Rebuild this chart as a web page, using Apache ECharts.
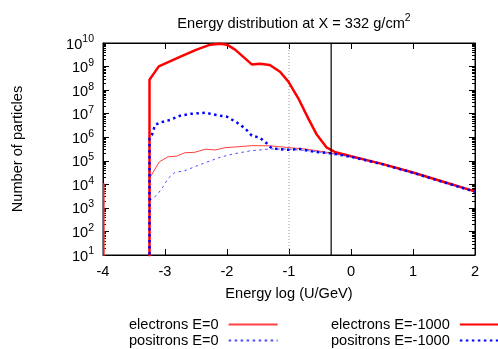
<!DOCTYPE html>
<html>
<head>
<meta charset="utf-8">
<script src="https://cdn.jsdelivr.net/npm/echarts@6/dist/echarts.min.js"></script>
<style>html,body{margin:0;padding:0;background:#fff;}#c{width:498px;height:349px;}</style>
</head>
<body>
<div id="c"></div>
<script>
// ---- data ----
const xTickLabels = [-4, -3, -2, -1, 0, 1, 2];
const yMajorTicks = [1e1, 1e2, 1e3, 1e4, 1e5, 1e6, 1e7, 1e8, 1e9, 1e10];
const yMinorTicks = [];
for (let d = 1; d < 10; d++) for (let m = 2; m <= 9; m++) yMinorTicks.push(m * Math.pow(10, d));

const electronsE0 = [
  [-3.985, 1], [-3.985, 1.1e4], [-3.98, 1], [-3.25, 1],
  [-3.25, 1.8e4], [-3.09, 9.1e4], [-2.95, 1.48e5], [-2.81, 1.58e5], [-2.68, 2.19e5],
  [-2.52, 2.29e5], [-2.35, 3.1e5], [-2.19, 2.88e5], [-2.03, 3.6e5], [-1.79, 4.0e5],
  [-1.58, 4.4e5], [-1.31, 4.3e5], [-1.04, 3.7e5], [-0.71, 3.1e5], [-0.34, 2.19e5],
  [0, 1.55e5], [0.5, 7.4e4], [1.0, 3.16e4], [1.5, 1.26e4], [2.0, 5.0e3]
];
const positronsE0 = [
  [-3.25, 1], [-3.25, 2.0e3], [-3.13, 3.5e3], [-3.03, 7.9e3], [-2.95, 1.8e4],
  [-2.84, 3.2e4], [-2.68, 3.8e4], [-2.52, 5.6e4], [-2.33, 8.7e4], [-2.11, 1.41e5],
  [-1.90, 1.95e5], [-1.63, 2.63e5], [-1.31, 3.16e5], [-1.04, 3.16e5], [-0.66, 2.63e5],
  [-0.29, 1.95e5], [0, 1.48e5], [0.5, 7.2e4], [1.0, 3.1e4], [1.5, 1.23e4], [2.0, 4.8e3]
];
const electronsE1000 = [
  [-3.25, 1], [-3.25, 2.75e8], [-3.10, 1.02e9], [-2.76, 2.57e9], [-2.49, 5.25e9],
  [-2.27, 8.5e9], [-2.11, 9.3e9], [-2.00, 8.5e9], [-1.87, 5.25e9], [-1.60, 1.23e9],
  [-1.47, 1.32e9], [-1.31, 1.17e9], [-1.145, 6.0e8], [-1.01, 2.3e8], [-0.85, 4.5e7],
  [-0.69, 6.3e6], [-0.55, 1.26e6], [-0.39, 3.6e5], [-0.25, 2.3e5], [0, 1.55e5],
  [0.5, 7.4e4], [1.0, 3.16e4], [1.5, 1.26e4], [2.0, 5.0e3]
];
const positronsE1000 = [
  [-3.25, 1], [-3.25, 8.9e5], [-3.21, 1.26e6], [-3.16, 3.3e6], [-3.08, 4.2e6],
  [-2.92, 5.4e6], [-2.76, 8.1e6], [-2.60, 9.8e6], [-2.35, 1.1e7], [-2.17, 8.7e6],
  [-2.00, 7.4e6], [-1.84, 4.2e6], [-1.71, 2.4e6], [-1.60, 1.17e6], [-1.47, 9.5e5],
  [-1.36, 5.5e5], [-1.28, 3.4e5], [-1.04, 2.9e5], [-0.82, 3.16e5], [-0.61, 2.45e5],
  [-0.34, 2.1e5], [0, 1.48e5], [0.5, 7.2e4], [1.0, 3.1e4], [1.5, 1.23e4], [2.0, 4.8e3]
];
const markerDotted = [[-1, 10], [-1, 1e10]];
const markerSolid = [[-0.32, 10], [-0.32, 1e10]];

const FONT = '"Liberation Sans", Arial, Helvetica, sans-serif';
const FS = 14.6;

function yAxisDef(pos, major, labels) {
  return {
    type: 'log', logBase: 10, min: 10, max: 1e10, position: pos,
    gridIndex: 0,
    axisLine: { show: major, onZero: false, lineStyle: { color: '#000', width: 1 } },
    splitLine: { show: false },
    axisTick: { show: true, inside: true, length: major ? 6 : 3, lineStyle: { color: '#000', width: 1 },
      customValues: major ? yMajorTicks : yMinorTicks },
    axisLabel: labels ? {
      show: true, customValues: yMajorTicks, margin: 9,
      formatter: function (v) { return '{b|10}{s|' + Math.round(Math.log10(v)) + '}'; },
      rich: {
        b: { fontFamily: FONT, fontSize: FS, color: '#000', lineHeight: 18, verticalAlign: 'bottom' },
        s: { fontFamily: FONT, fontSize: 10.5, color: '#000', verticalAlign: 'top', lineHeight: 18 }
      }
    } : { show: false },
    name: labels ? 'Number of particles' : '',
    nameLocation: 'middle', nameGap: 78,
    nameTextStyle: { fontFamily: FONT, fontSize: FS, color: '#000' }
  };
}

const legendCommon = {
  orient: 'vertical', align: 'right', itemWidth: 49, itemHeight: 12, itemGap: 1,
  height: 80, selectedMode: false, itemStyle: { opacity: 0 },
  textStyle: { fontFamily: FONT, fontSize: FS, color: '#000', lineHeight: 14, padding: [0, 5, 0, 0] }
};

const chart = echarts.init(document.getElementById('c'), null, { renderer: 'canvas' });
chart.setOption({
  animation: false,
  backgroundColor: '#fff',
  title: {
    text: '{a|Energy distribution at X = 332 g/cm}{s|2}',
    left: 289, top: 8, textAlign: 'center',
    textStyle: {
      fontWeight: 'normal',
      rich: {
        a: { fontFamily: FONT, fontSize: FS, fontWeight: 'normal', color: '#000', lineHeight: 18, verticalAlign: 'bottom' },
        s: { fontFamily: FONT, fontSize: 10.5, fontWeight: 'normal', color: '#000', verticalAlign: 'top', lineHeight: 18 }
      }
    }
  },
  grid: { left: 103, right: 23, top: 43, bottom: 94, containLabel: false,
    show: true, borderColor: '#000', borderWidth: 1, backgroundColor: 'transparent' },
  legend: [
    Object.assign({ data: ['electrons E=0', 'positrons E=0'], left: 124, top: 312 }, legendCommon),
    Object.assign({ data: ['electrons E=-1000', 'positrons E=-1000'], left: 326, top: 312 }, legendCommon)
  ],
  xAxis: [
    {
      type: 'value', min: -4, max: 2, interval: 1, position: 'bottom',
      axisLine: { show: true, onZero: false, lineStyle: { color: '#000', width: 1 } },
      splitLine: { show: false },
      axisTick: { inside: true, length: 6, lineStyle: { color: '#000' } },
      axisLabel: { margin: 9, fontFamily: FONT, fontSize: FS, color: '#000',
        customValues: xTickLabels },
      name: 'Energy log (U/GeV)', nameLocation: 'middle', nameGap: 31,
      nameTextStyle: { fontFamily: FONT, fontSize: FS, color: '#000' }
    },
    {
      type: 'value', min: -4, max: 2, interval: 1, position: 'top',
      axisLine: { show: true, onZero: false, lineStyle: { color: '#000', width: 1 } },
      splitLine: { show: false },
      axisTick: { inside: true, length: 6, lineStyle: { color: '#000' } },
      axisLabel: { show: false }
    }
  ],
  yAxis: [
    yAxisDef('left', true, true),
    yAxisDef('left', false, false),
    yAxisDef('right', true, false),
    yAxisDef('right', false, false)
  ],
  series: [
    { name: 'electrons E=0', type: 'line', data: electronsE0, symbol: 'none', clip: true,
      lineStyle: { color: '#ff4040', width: 1 }, itemStyle: { color: '#ff4040' }, z: 3 },
    { name: 'positrons E=0', type: 'line', data: positronsE0, symbol: 'none', clip: true,
      lineStyle: { color: '#4a4aff', width: 1, type: [2.5, 3.5] }, itemStyle: { color: '#4a4aff' }, z: 2 },
    { name: 'electrons E=-1000', type: 'line', data: electronsE1000, symbol: 'none', clip: true,
      lineStyle: { color: '#ff0000', width: 2.5 }, itemStyle: { color: '#ff0000' }, z: 4 },
    { name: 'positrons E=-1000', type: 'line', data: positronsE1000, symbol: 'none', clip: true,
      lineStyle: { color: '#0000ff', width: 2.5, type: [2.5, 3.5] }, itemStyle: { color: '#0000ff' }, z: 5 },
    { name: 'm1', type: 'line', data: markerDotted, symbol: 'none', silent: true,
      lineStyle: { color: '#999', width: 1, type: [1, 2] }, z: 1 },
    { name: 'm2', type: 'line', data: markerSolid, symbol: 'none', silent: true,
      lineStyle: { color: '#000', width: 1.2 }, z: 6 }
  ]
});
</script>
</body>
</html>
